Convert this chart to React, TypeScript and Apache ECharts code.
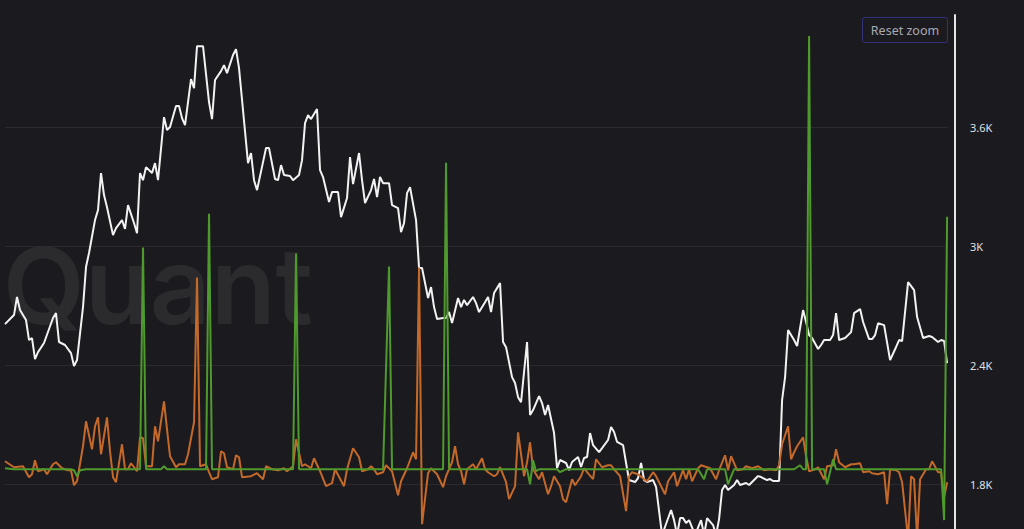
import React, { useEffect, useRef } from "react";
import * as echarts from "echarts";

// Price series: [day, price in USD]
const priceData: [number, number][] = [
  [0, 2606], [2, 2637], [3, 2652], [4, 2743], [5, 2677], [7, 2627], [8, 2526], [9, 2536],
  [10, 2430], [11, 2465], [13, 2511], [16, 2637], [17, 2662], [18, 2516], [20, 2501],
  [22, 2460], [23, 2395], [24, 2425], [26, 2692], [27, 2894], [28, 2965], [30, 3131],
  [31, 3181], [32, 3368], [33, 3257], [34, 3196], [36, 3055], [37, 3090], [39, 3131],
  [40, 3086], [41, 3206], [43, 3116], [44, 3065], [45, 3368], [46, 3332], [47, 3398],
  [49, 3368], [50, 3418], [51, 3332], [53, 3650], [54, 3585], [55, 3600], [57, 3706],
  [58, 3706], [59, 3645], [60, 3610], [62, 3842], [63, 3796], [64, 4008], [66, 4008],
  [68, 3726], [69, 3640], [70, 3837], [72, 3882], [73, 3912], [74, 3872], [76, 3963],
  [77, 3993], [78, 3897], [81, 3418], [82, 3469], [83, 3332], [84, 3282], [86, 3423],
  [87, 3494], [88, 3494], [90, 3338], [91, 3332], [92, 3408], [93, 3358], [95, 3353],
  [96, 3332], [98, 3358], [99, 3433], [100, 3620], [101, 3660], [102, 3640], [104, 3691],
  [105, 3383], [106, 3348], [108, 3222], [109, 3272], [111, 3272], [112, 3146], [114, 3242],
  [115, 3449], [116, 3312], [118, 3469], [119, 3332], [120, 3217], [122, 3282], [123, 3338],
  [124, 3247], [125, 3348], [126, 3317], [128, 3317], [129, 3206], [131, 3191], [132, 3070],
  [133, 3116], [134, 3267], [135, 3297], [137, 3131], [138, 2889], [139, 2889], [141, 2738],
  [142, 2793], [143, 2692], [144, 2632], [146, 2637], [147, 2637], [148, 2667], [149, 2612],
  [151, 2738], [152, 2692], [153, 2728], [154, 2702], [156, 2743], [157, 2712], [158, 2667],
  [160, 2717], [161, 2743], [162, 2667], [163, 2763], [165, 2813], [166, 2516], [167, 2490],
  [169, 2339], [170, 2309], [171, 2238], [172, 2213], [174, 2516], [175, 2148], [176, 2173],
  [178, 2243], [179, 2208], [180, 2148], [181, 2198], [183, 2057], [184, 1880], [185, 1921],
  [187, 1906], [188, 1870], [189, 1911], [191, 1936], [192, 1886], [193, 1931], [194, 1936],
  [195, 2057], [196, 1996], [198, 1961], [199, 1981], [201, 2022], [202, 2087], [203, 2062],
  [204, 2012], [206, 1996], [207, 1906], [208, 1820], [210, 1810], [211, 1830], [212, 1906],
  [213, 1820], [214, 1810], [216, 1820], [217, 1785], [219, 1543], [222, 1669], [223, 1618],
  [224, 1543], [225, 1628], [226, 1628], [227, 1603], [228, 1618], [230, 1543], [232, 1618],
  [233, 1543], [234, 1628], [236, 1593], [237, 1543], [238, 1623], [239, 1770], [240, 1795],
  [241, 1770], [243, 1795], [244, 1820], [245, 1795], [247, 1805], [248, 1795], [250, 1825],
  [251, 1840], [252, 1835], [254, 1820], [255, 1825], [256, 1815], [258, 1815], [259, 2223],
  [260, 2339], [261, 2576], [263, 2526], [264, 2496], [266, 2677], [267, 2617], [268, 2551],
  [269, 2536], [271, 2481], [272, 2501], [273, 2526], [275, 2526], [276, 2551], [277, 2662],
  [278, 2526], [280, 2536], [282, 2566], [283, 2662], [285, 2682], [286, 2617], [288, 2531],
  [289, 2531], [290, 2551], [291, 2611], [293, 2601], [295, 2425], [297, 2491], [298, 2526],
  [299, 2521], [301, 2818], [303, 2778], [304, 2642], [306, 2536], [308, 2546], [309, 2541],
  [311, 2516], [312, 2526], [313, 2521], [314, 2410],
];

// Orange flow series: [day, flow]
const orangeFlow: [number, number][] = [
  [0, 0.8], [2, 0.4], [3, 0.2], [6, 0.3], [8, -0.8], [9, -0.5], [10, 0.9], [11, -0.2],
  [13, 0], [14, -0.5], [16, 0.5], [17, 0.7], [19, 0.1], [21, -0.1], [22, -0.1], [23, -1.6],
  [24, -1.2], [26, 2.3], [27, 4.8], [29, 2.0], [30, 4.3], [31, 5.2], [32, 1.5], [34, 5.2],
  [35, 1.8], [36, -0.8], [37, -1.3], [39, 2.5], [40, 0], [41, 0], [42, 0.6], [44, -0.2],
  [45, 3.2], [46, 3.1], [47, 0.3], [49, 0.3], [50, 4.3], [51, 2.8], [53, 6.8], [54, 4.0],
  [55, 1.3], [57, 0.2], [58, 0.5], [60, 0.5], [61, 1.5], [63, 4.7], [64, 19.2], [65, 0.3],
  [67, 0.5], [68, -0.3], [69, -1.0], [71, -0.8], [72, 1.8], [73, 1.6], [74, 0.2], [76, 0],
  [77, 1.4], [78, 1.2], [79, -0.8], [82, -0.7], [84, -0.4], [86, -1.0], [87, 0.3], [89, 0],
  [91, -0.1], [93, 0.1], [94, -0.2], [96, 0.3], [97, 3.0], [99, 0.3], [100, 0.5], [102, 0.1],
  [103, 1.1], [105, -0.2], [107, -1.7], [109, -1.4], [110, 0], [113, -1.7], [114, 0],
  [116, 2.1], [118, 1.2], [119, -0.2], [121, 0], [122, 0.3], [123, 0], [124, -0.5],
  [126, -0.3], [127, 0.4], [129, -0.2], [131, -2.6], [132, -1.2], [134, 0.1], [136, 1.7],
  [137, 1.0], [138, 20.2], [139, -5.5], [141, -0.4], [142, 0.1], [144, -0.5], [146, -1.8],
  [147, -0.7], [149, 0.7], [150, 2.3], [151, 0.5], [152, -0.2], [153, -1.5], [154, 0],
  [156, 0.5], [157, 0], [159, 1.1], [160, 0], [161, -0.3], [163, -0.7], [164, -0.5],
  [165, 0.2], [167, -1.3], [168, -3.0], [170, -1.7], [171, 3.7], [173, -0.7], [174, 0.7],
  [175, 2.7], [176, 0], [178, -1.0], [179, -0.3], [181, -2.5], [182, -1.7], [183, -0.7],
  [185, -1.7], [186, -3.0], [187, -3.3], [189, -1.0], [190, -1.6], [192, -0.7], [193, 0.1],
  [194, -0.3], [196, -1.0], [197, 1.0], [199, 0.2], [201, 0.4], [202, 0.4], [203, 0],
  [205, -0.7], [207, -4.2], [208, -0.7], [209, -0.3], [211, -0.5], [213, -1.0], [214, -1.2],
  [216, -0.3], [217, -0.7], [218, -1.3], [220, -2.5], [221, -1.2], [223, -0.3], [224, -1.7],
  [226, -0.1], [227, -1.0], [228, 0], [229, -1.2], [231, 0.1], [232, 0.4], [233, 0.3],
  [235, 0.1], [237, -1.0], [238, -0.1], [240, 1.4], [241, -0.1], [242, 1.3], [244, -0.1],
  [246, 0], [247, 0.3], [249, 0.1], [251, 0.3], [253, -0.1], [255, 0], [257, -0.1],
  [258, 0.4], [259, 2.5], [261, 4.3], [262, 1.0], [263, 1.7], [264, 2.3], [266, 3.2],
  [267, 1.3], [268, -0.2], [270, 0], [271, 0.2], [273, -1.0], [274, 0.3], [276, 0.4],
  [277, 2.0], [278, 0.7], [280, 0.2], [282, 0.5], [283, 0.5], [285, 0.6], [286, -0.3],
  [288, -0.2], [289, -0.4], [291, -0.5], [293, -0.3], [294, -3.5], [295, 0], [297, -0.1],
  [298, -0.3], [299, -1.3], [301, -7.0], [302, -0.7], [303, -1.0], [304, -7.0], [305, -1.0],
  [307, 0], [308, 0], [309, 0.8], [311, -0.3], [312, -0.3], [313, -2.8], [314, -1.3],
];

// Green flow series: [day, flow]
const greenFlow: [number, number][] = [
  [0, 0.1], [3, 0], [22, 0], [23, -0.1], [24, -0.7], [25, -0.1], [27, 0], [45, 0],
  [46, 22.2], [47, 0], [52, 0], [53, 0.3], [54, 0], [67, 0], [68, 25.6], [69, 0], [96, 0],
  [97, 21.6], [98, 0], [126, 0], [128, 20.3], [129, 0], [146, 0], [147, 30.7], [148, 0],
  [174, 0], [175, -1.5], [176, 0.9], [177, -0.2], [178, 0], [184, 0], [185, -0.3], [187, 0],
  [231, 0], [233, -1.0], [234, 0], [240, 0], [241, -1.5], [243, 0], [263, 0], [265, 0.4],
  [266, 0], [267, 0], [268, 43.4], [269, 0], [273, 0], [274, -1.5], [276, 1.0], [277, 0],
  [312, 0], [313, -5.1], [314, 25.3],
];

const priceTicks = [1200, 1800, 2400, 3000, 3600];

export default function App() {
  const ref = useRef<HTMLDivElement>(null);

  useEffect(() => {
    if (!ref.current) return;
    const chart = echarts.init(ref.current, null, { renderer: "svg" });
    chart.setOption({
      animation: false,
      backgroundColor: "#1b1b1f",
      grid: { left: 5, right: 76, top: 15, bottom: 7 },
      xAxis: { type: "value", min: 0, max: 314.3, show: false },
      yAxis: [
        {
          type: "value",
          position: "right",
          offset: 7,
          min: priceTicks[0],
          max: 4165,
          interval: priceTicks[1] - priceTicks[0],
          axisLine: { show: true, onZero: false, lineStyle: { color: "#e6e6e6", width: 2 } },
          axisTick: { show: false },
          axisLabel: {
            color: "#dde1e8",
            fontSize: 11,
            fontFamily: "Noto Sans",
            margin: 15,
            showMaxLabel: false,
            showMinLabel: false,
            formatter: (v: number) => `${v / 1000}K`,
          },
          splitLine: {
            show: true,
            showMaxLine: false,
            lineStyle: { color: "#2a2a2f", width: 1 },
          },
        },
        { type: "value", min: -13.4, max: 45.5, show: false, splitLine: { show: false } },
      ],
      graphic: [
        {
          type: "text",
          left: 3,
          top: 232,
          z: 0,
          style: {
            text: "Quant",
            font: "600 106px Inter",
            fill: "rgba(255,255,255,0.07)",
          },
        },
        {
          type: "rect",
          shape: { x: 862.5, y: 17.5, width: 85, height: 25, r: 2 },
          style: { fill: "transparent", stroke: "#33307a", lineWidth: 1 },
        },
        {
          type: "text",
          x: 905,
          y: 30.5,
          style: {
            text: "Reset zoom",
            font: "12.5px 'Noto Sans'",
            fill: "#a9a9b2",
            align: "center",
            verticalAlign: "middle",
          },
        },
      ],
      series: [
        {
          name: "Price",
          type: "line",
          data: priceData,
          yAxisIndex: 0,
          showSymbol: false,
          symbol: "none",
          lineStyle: { color: "#f2f2f2", width: 2 },
          z: 2,
        },
        {
          name: "Flow A",
          type: "line",
          data: orangeFlow,
          yAxisIndex: 1,
          showSymbol: false,
          symbol: "none",
          lineStyle: { color: "#c4692a", width: 2 },
          z: 3,
        },
        {
          name: "Flow B",
          type: "line",
          data: greenFlow,
          yAxisIndex: 1,
          showSymbol: false,
          symbol: "none",
          lineStyle: { color: "#4f9a2c", width: 2 },
          z: 4,
        },
      ],
    });
    return () => chart.dispose();
  }, []);

  return (
    <div
      ref={ref}
      style={{ position: "fixed", left: 0, top: 0, width: 1024, height: 610 }}
    />
  );
}
